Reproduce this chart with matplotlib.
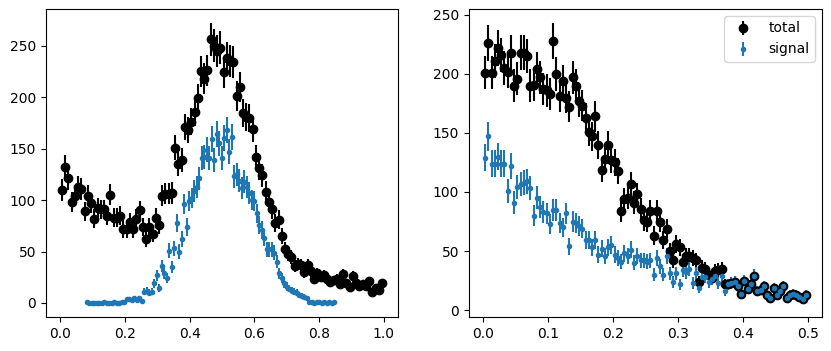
import matplotlib
matplotlib.use("Agg")
import matplotlib.pyplot as plt
import numpy as np

# left panel: total counts, 100 bins on [0, 1]
left_edges = np.linspace(0, 1, 101)
left_x = 0.5 * (left_edges[:-1] + left_edges[1:])
left_total = [
    110, 132, 121, 98, 104, 113, 111, 89, 104, 97,
    82, 92, 91, 91, 85, 105, 83, 83, 85, 72,
    72, 79, 72, 82, 90, 74, 62, 74, 67, 83,
    76, 104, 106, 106, 107, 151, 135, 139, 171, 168,
    176, 186, 199, 225, 218, 226, 256, 250, 245, 248,
    224, 238, 235, 234, 201, 210, 185, 181, 180, 169,
    142, 131, 124, 108, 98, 91, 78, 81, 65, 52,
    48, 45, 36, 38, 37, 30, 37, 31, 23, 29,
    25, 27, 23, 20, 22, 23, 18, 28, 19, 16,
    26, 19, 17, 18, 17, 21, 11, 15, 13, 19,
]

# left panel: signal, 100 points between 0.082 and 0.848
left_sig_x = np.linspace(0.082, 0.848, 100)
left_signal = [
    1, 0, 0, 0, 0, 0, 0, 1, 0, 0,
    0, 1, 0, 0, 1, 1, 4, 4, 3, 5,
    3, 5, 2, 11, 12, 10, 11, 19, 27, 15,
    36, 29, 24, 51, 35, 53, 78, 50, 62, 96,
    74, 99, 102, 109, 113, 121, 141, 142, 149, 141,
    159, 139, 164, 155, 141, 160, 168, 147, 161, 123,
    125, 119, 112, 118, 113, 107, 100, 99, 87, 76,
    71, 63, 52, 52, 52, 49, 40, 29, 24, 19,
    16, 14, 12, 11, 10, 8, 7, 6, 5, 1,
    1, 0, 1, 1, 0, 1, 0, 1, 0, 1,
]

# right panel: 100 bins on [0, 0.5]
right_edges = np.linspace(0, 0.5, 101)
right_x = 0.5 * (right_edges[:-1] + right_edges[1:])
right_total = [
    201, 226, 201, 211, 222, 216, 205, 202, 218, 190,
    196, 218, 218, 215, 190, 191, 204, 197, 187, 186,
    183, 228, 200, 181, 194, 180, 172, 197, 190, 177,
    173, 163, 151, 147, 164, 140, 119, 128, 140, 127,
    125, 118, 84, 94, 95, 107, 91, 98, 86, 76,
    75, 84, 63, 84, 75, 59, 69, 50, 42, 56,
    53, 41, 46, 46, 44, 42, 24, 36, 35, 30,
    27, 33, 34, 35, 22, 22, 23, 24, 20, 14,
    25, 18, 22, 29, 16, 17, 20, 13, 10, 19,
    13, 16, 20, 10, 13, 14, 13, 11, 9, 13,
]
right_signal = [
    129, 147, 124, 124, 130, 124, 124, 101, 122, 91,
    104, 107, 108, 109, 103, 80, 95, 87, 83, 82,
    73, 85, 85, 74, 70, 82, 54, 75, 74, 71,
    69, 59, 59, 53, 59, 47, 52, 46, 53, 55,
    47, 44, 41, 48, 46, 51, 40, 46, 42, 42,
    41, 42, 30, 44, 37, 30, 46, 31, 24, 31,
    22, 34, 32, 35, 23, 31, 19, 28, 28, 24,
    26, 29, 23, 29, 16, 22, 23, 24, 20, 14,
    25, 18, 22, 29, 16, 17, 20, 13, 10, 19,
    13, 16, 20, 10, 13, 14, 13, 11, 9, 13,
]

fig = plt.figure(figsize=(8.31, 3.51), dpi=100)
ax1 = fig.add_axes([46 / 831, 34 / 351, 352 / 831, 308 / 351])
ax2 = fig.add_axes([469 / 831, 34 / 351, 353 / 831, 308 / 351])

# poisson error bars
lt = np.array(left_total, dtype=float)
ls = np.array(left_signal, dtype=float)
ax1.errorbar(left_x, lt, yerr=np.sqrt(lt), fmt='ko')
ax1.errorbar(left_sig_x, ls, yerr=np.sqrt(ls), fmt='.')

rt = np.array(right_total, dtype=float)
rs = np.array(right_signal, dtype=float)
ax2.errorbar(right_x, rt, yerr=np.sqrt(rt), fmt='ko', label='total')
ax2.errorbar(right_x, rs, yerr=np.sqrt(rs), fmt='.', label='signal')
ax2.legend(loc='upper right')

fig.savefig("out.png", dpi=100)
